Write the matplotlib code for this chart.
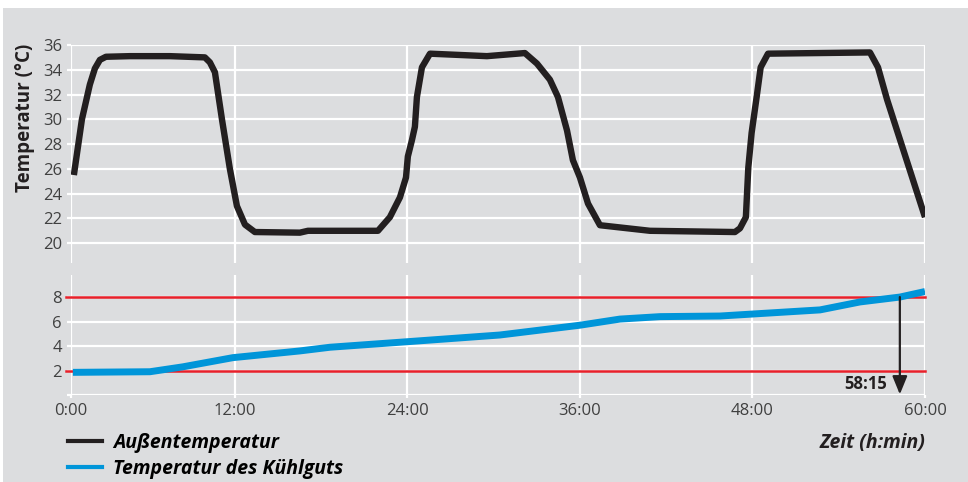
import matplotlib.pyplot as plt
from matplotlib.patches import Rectangle
from matplotlib.lines import Line2D

plt.rcParams['font.family'] = ['Open Sans', 'DejaVu Sans']

# Zeit in Stunden
t_aussen = [0.80, 1.36, 1.91, 2.26, 2.61, 3.03, 4.70, 7.48, 9.91, 10.26, 10.61, 11.10, 11.65,
            12.14, 12.70, 13.39, 16.52, 17.08, 21.95, 22.78, 23.48, 23.90, 24.03, 24.31, 24.52,
            24.66, 25.01, 25.57, 29.53, 32.17, 33.01, 33.91, 34.47, 35.10, 35.51, 36.00, 36.56,
            37.39, 40.87, 46.78, 47.13, 47.54, 47.71, 47.94, 48.29, 48.57, 49.08, 56.17, 56.73,
            57.36, 60.0]
aussen = [25.5, 30.0, 32.8, 34.1, 34.8, 35.05, 35.1, 35.1, 35.0, 34.6, 33.8, 30.0, 26.0,
          23.0, 21.5, 20.9, 20.85, 21.0, 21.0, 22.1, 23.7, 25.3, 27.0, 28.3, 29.4,
          31.8, 34.2, 35.3, 35.1, 35.35, 34.5, 33.2, 31.8, 29.1, 26.7, 25.3, 23.2,
          21.45, 21.0, 20.9, 21.2, 22.1, 26.1, 28.9, 31.8, 34.2, 35.3, 35.4, 34.2,
          31.6, 22.1]

t_kuehl = [0.73, 6.09, 8.38, 11.86, 16.52, 18.61, 23.97, 30.43, 36.00, 38.78, 41.57, 45.74,
           49.22, 52.70, 55.48, 58.26, 60.0]
kuehl = [1.85, 1.9, 2.3, 3.05, 3.6, 3.9, 4.35, 4.9, 5.7, 6.2, 6.4, 6.45,
         6.7, 6.95, 7.6, 8.0, 8.45]

grenzen = [2, 8]
t_marke = 58.25
t_start = 0.6  # linke Achsenkante, beschriftet mit 0:00
xticks = [t_start, 12, 24, 36, 48, 60]
xlabels = ['0:00', '12:00', '24:00', '36:00', '48:00', '60:00']

grau = '#dcdddf'
fig = plt.figure(figsize=(9.68, 4.82), dpi=100, facecolor='white')
fig.patches.append(Rectangle((3/968, 0), 1, 1 - 8/482, transform=fig.transFigure,
                             facecolor=grau, edgecolor='none', zorder=-10))

ax1 = fig.add_axes([71/968, 1 - 263/482, 854/968, 218/482])
ax2 = fig.add_axes([71/968, 1 - 395/482, 854/968, 120/482])

for ax in (ax1, ax2):
    ax.set_facecolor(grau)
    for s in ax.spines.values():
        s.set_visible(False)
    ax.set_xlim(t_start, 60)
    ax.set_xticks(xticks)
    ax.grid(True, color='white', linewidth=1.6)
    ax.set_axisbelow(True)
    ax.tick_params(colors='white', width=1.6, length=3, labelcolor='#404040', labelsize=12)

ax1.set_ylim(18.4, 36)
ax1.set_yticks(range(20, 37, 2))
ax1.tick_params(axis='x', labelbottom=False, length=0)
ax1.plot(t_aussen, aussen, color='#231f20', linewidth=4.6, solid_joinstyle='round',
         solid_capstyle='butt')

ax2.set_ylim(0, 9.8)
ax2.set_yticks([0, 2, 4, 6, 8])
ax2.set_yticklabels(['', '2', '4', '6', '8'])
ax2.set_xticklabels(xlabels)
ax2.tick_params(axis='x', length=2, pad=4)
for g in grenzen:
    ax2.axhline(g, color='#e8202a', linewidth=1.8, zorder=2, xmin=-0.006, clip_on=False)
ax2.plot(t_kuehl, kuehl, color='#0095d9', linewidth=5, solid_joinstyle='round',
         solid_capstyle='butt', zorder=3)

ax2.annotate('', xy=(t_marke, 0.05), xytext=(t_marke, 8),
             arrowprops=dict(arrowstyle='-|>,head_length=1.1,head_width=0.45',
                             color='#231f20', linewidth=1.6, shrinkA=0, shrinkB=0), zorder=4)
ax2.text(t_marke - 0.9, 0.9, '58:15', ha='right', va='center', fontsize=12,
         fontweight='bold', color='#231f20')

fig.text(25/968, 1 - 118/482, 'Temperatur (°C)', rotation=90, ha='center', va='center',
         fontsize=13.5, fontweight='bold', color='#231f20')
fig.text(925/968, 1 - 443/482, 'Zeit (h:min)', ha='right', va='center', fontsize=14,
         fontweight='bold', style='italic', color='#231f20')

handles = [Line2D([], [], color='#231f20', linewidth=3),
           Line2D([], [], color='#0095d9', linewidth=3)]
fig.legend(handles, ['Außentemperatur', 'Temperatur des Kühlguts'], loc='upper left',
           bbox_to_anchor=(68/968, 1 - 433/482), frameon=False, handlelength=1.75,
           handletextpad=0.55, labelspacing=0.32, borderaxespad=0, borderpad=0,
           prop=dict(size=14, weight='bold', style='italic'))

fig.savefig('out.png', dpi=100, facecolor=fig.get_facecolor())
